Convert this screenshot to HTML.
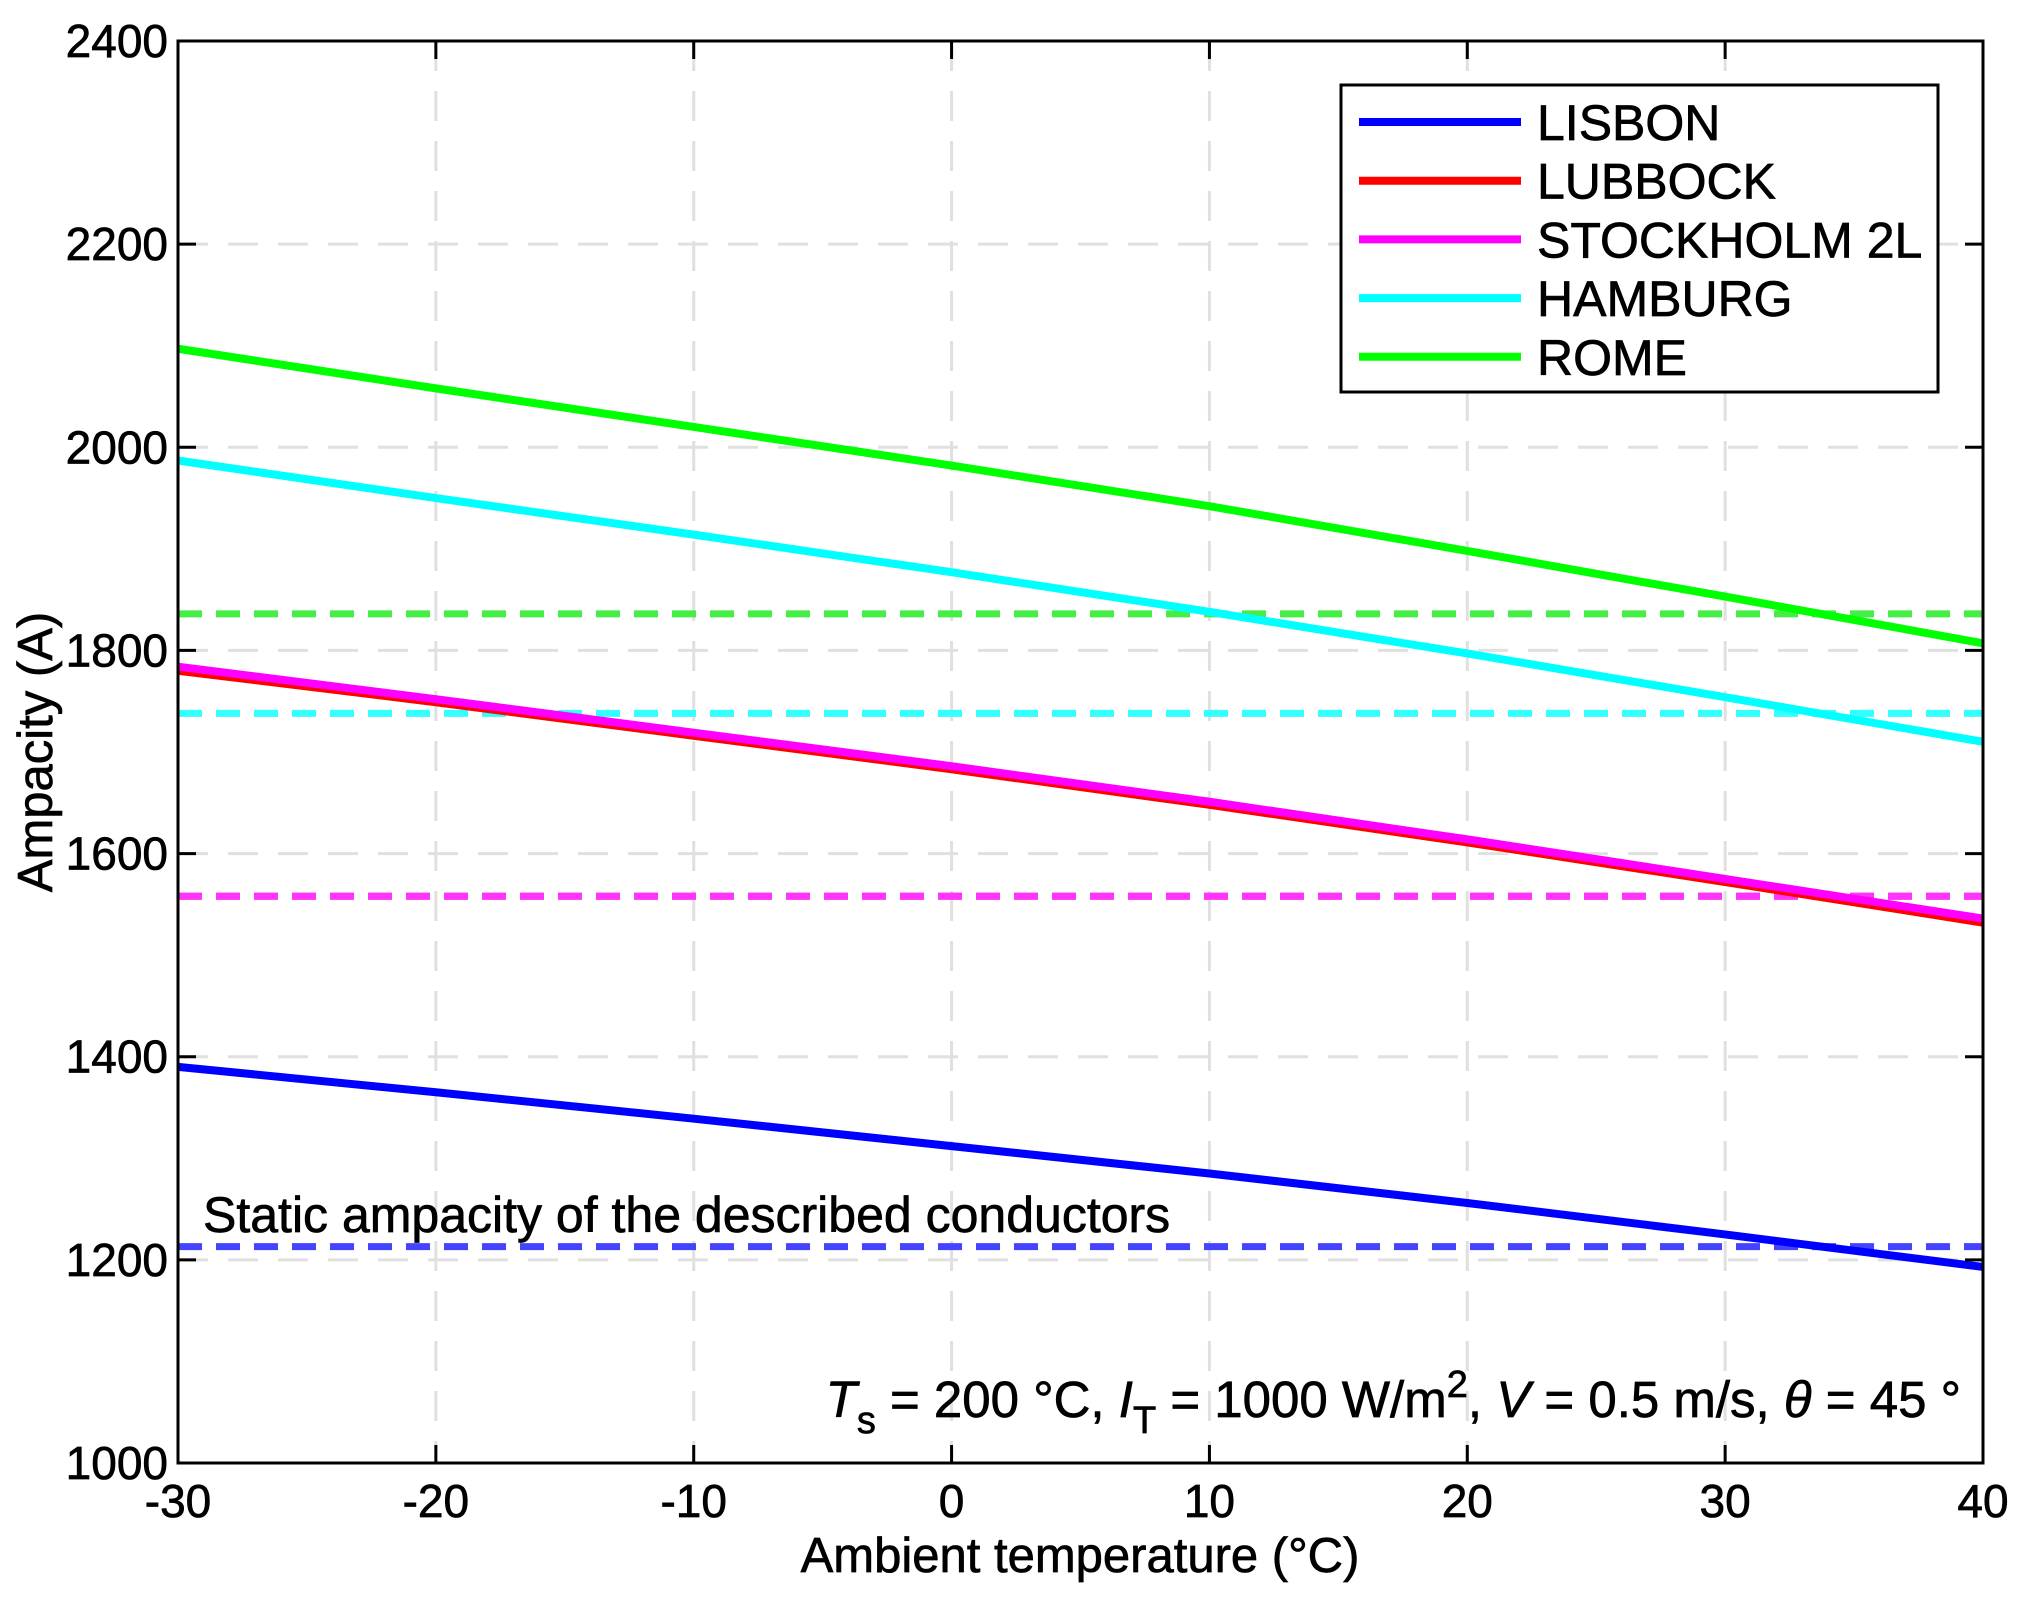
<!DOCTYPE html>
<html><head><meta charset="utf-8"><style>
body{margin:0;background:#fff}
svg{display:block;font-family:"Liberation Sans",Arial,sans-serif}
text{stroke:#000;stroke-width:0.7px}
</style></head><body>
<svg id="chart" width="2017" height="1600" viewBox="0 0 2017 1600">
<g id="grid"></g>
<g id="static"></g>
<g id="series"></g>
<g id="axes"></g>
<text x="203" y="1232" font-size="50">Static ampacity of the described conductors</text>
<text x="1961" y="1417" font-size="51" text-anchor="end"><tspan font-style="italic">T</tspan><tspan font-size="38" dy="16">s</tspan><tspan dy="-16"> = 200 °C, </tspan><tspan font-style="italic">I</tspan><tspan font-size="38" dy="16">T</tspan><tspan dy="-16"> = 1000 W/m</tspan><tspan font-size="38" dy="-20">2</tspan><tspan dy="20">, </tspan><tspan font-style="italic">V</tspan><tspan> = 0.5 m/s, </tspan><tspan font-style="italic">θ</tspan><tspan> = 45 °</tspan></text>
<text x="1080" y="1572" font-size="49" text-anchor="middle">Ambient temperature (°C)</text>
<text transform="translate(52,752) rotate(-90)" font-size="49" text-anchor="middle">Ampacity (A)</text>
<g id="legend"></g>
</svg>
<script>
const xTicks=[-30,-20,-10,0,10,20,30,40];
const yTicks=[1000,1200,1400,1600,1800,2000,2200,2400];
const temps=[-30,-20,-10,0,10,20,30,40];
const lisbon=[1390,1365,1339,1312,1285,1256,1225,1193];
const lubbock=[1780,1749,1716,1683,1648,1611,1572,1532];
const stockholm=[1784,1752,1719,1686,1651,1614,1575,1536];
const hamburg=[1987,1950,1914,1877,1838,1797,1754,1710];
const rome=[2097,2058,2020,1982,1942,1898,1853,1807];
const seriesNames=["LISBON","LUBBOCK","STOCKHOLM 2L","HAMBURG","ROME"];
const staticValues=[1213,1558,1558,1738,1836];
const L=178,R=1983,T=41,B=1463;
const sx=v=>L+(v+30)/70*(R-L);
const sy=v=>B-(v-1000)/1400*(B-T);
const NS="http://www.w3.org/2000/svg";
function mk(tag,attrs,parent){const e=document.createElementNS(NS,tag);for(const k in attrs)e.setAttribute(k,attrs[k]);parent.appendChild(e);return e;}
const grid=document.getElementById('grid'),axes=document.getElementById('axes');
xTicks.forEach(t=>{
 const g=mk('line',{x1:sx(t),x2:sx(t),y1:T,y2:B,stroke:'#e0e0e0','stroke-width':3,'stroke-dasharray':'30 20'},grid);
 
 
 const k=mk('line',{x1:sx(t),x2:sx(t),y1:B,y2:B-18,stroke:'#000','stroke-width':3},axes);
 
 
 const k2=mk('line',{x1:sx(t),x2:sx(t),y1:T,y2:T+18,stroke:'#000','stroke-width':3},axes);
 
 
 const tx=mk('text',{x:sx(t),y:B+54,'font-size':46,'text-anchor':'middle'},axes);
 tx.textContent=t;
 
 
});
yTicks.forEach(t=>{
 const g=mk('line',{x1:L,x2:R,y1:sy(t),y2:sy(t),stroke:'#e0e0e0','stroke-width':3,'stroke-dasharray':'30 20'},grid);
 
 
 const k=mk('line',{x1:L,x2:L+18,y1:sy(t),y2:sy(t),stroke:'#000','stroke-width':3},axes);
 
 
 const k2=mk('line',{x1:R,x2:R-18,y1:sy(t),y2:sy(t),stroke:'#000','stroke-width':3},axes);
 
 
 const tx=mk('text',{x:L-10,y:sy(t)+16,'font-size':46,'text-anchor':'end'},axes);
 tx.textContent=t;
 
 
});
const fr=mk('rect',{x:L,y:T,width:R-L,height:B-T,fill:'none',stroke:'#000','stroke-width':3},axes);


const colors=['#0000ff','#ff0000','#ff00ff','#00ffff','#00ff00'];
const dashColors=['#4444ff','#ff3333','#ff33ff','#33ffff','#44ee44'];
const data=[lisbon,lubbock,stockholm,hamburg,rome];
const st=document.getElementById('static');
staticValues.forEach((v,i)=>{
 const l=mk('line',{x1:L,x2:R,y1:sy(v),y2:sy(v),stroke:dashColors[i],'stroke-width':7,'stroke-dasharray':'24 14'},st);
 
 
});
const sg=document.getElementById('series');
data.forEach((d,i)=>{
 const p=mk('polyline',{points:d.map((v,j)=>sx(temps[j])+','+sy(v)).join(' '),fill:'none',stroke:colors[i],'stroke-width':8},sg);
 
 
});
const lg=document.getElementById('legend');
const box=mk('rect',{x:1341,y:85,width:597,height:307,fill:'#fff',stroke:'#000','stroke-width':3},lg);


seriesNames.forEach((n,i)=>{
 const y=122+i*58.7;
 const l=mk('line',{x1:1359,x2:1521,y1:y,y2:y,stroke:colors[i],'stroke-width':8},lg);
 
 
 const t=mk('text',{x:1537,y:y+18,'font-size':50},lg);
 t.textContent=n;
 
 
});
</script>
</body></html>
